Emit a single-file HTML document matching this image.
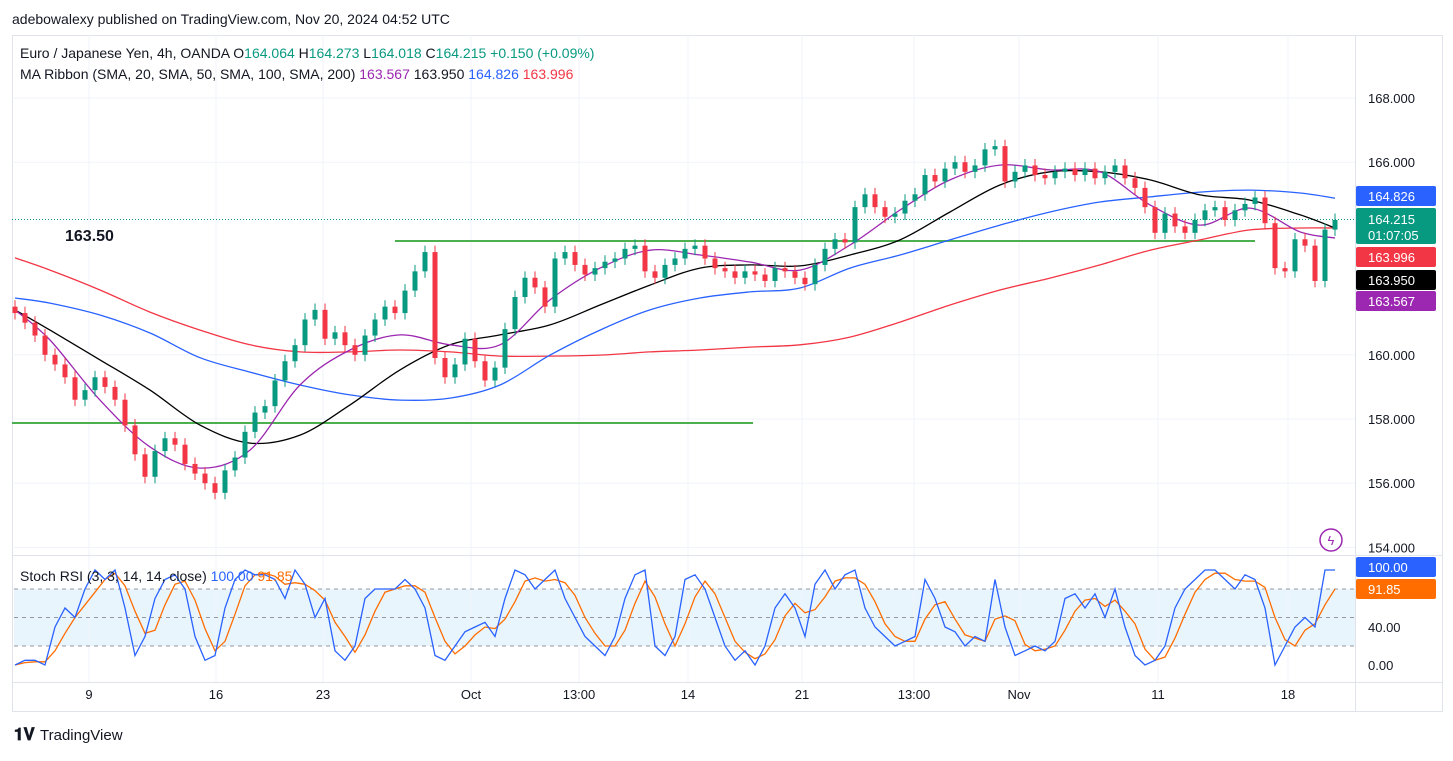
<!DOCTYPE html>
<html><head><meta charset="utf-8">
<style>
body{margin:0;background:#fff;font-family:"Liberation Sans",sans-serif;}
svg text{font-family:"Liberation Sans",sans-serif;}
</style></head>
<body>
<svg id="c" width="1453" height="756" xmlns="http://www.w3.org/2000/svg">
<rect width="1453" height="756" fill="#fff"/>
<text x="12" y="24" font-size="14" fill="#131722">adebowalexy published on TradingView.com, Nov 20, 2024 04:52 UTC</text>
<rect x="12.5" y="35.5" width="1430" height="676" fill="none" stroke="#e0e3eb"/>
<rect x="14" y="589" width="1341" height="57" fill="#e3f2fd" opacity="0.8"/>
<g id="grid"></g>
<g id="plot"></g>
<line x1="12" y1="555.5" x2="1443" y2="555.5" stroke="#e0e3eb"/>
<line x1="1355.5" y1="35" x2="1355.5" y2="712" stroke="#e0e3eb"/>
<line x1="12" y1="682.5" x2="1443" y2="682.5" stroke="#e0e3eb"/>
<text x="20" y="58" font-size="14" fill="#131722">Euro / Japanese Yen, 4h, OANDA <tspan fill="#131722">O</tspan><tspan fill="#089981">164.064</tspan> H<tspan fill="#089981">164.273</tspan> L<tspan fill="#089981">164.018</tspan> C<tspan fill="#089981">164.215</tspan> <tspan fill="#089981">+0.150 (+0.09%)</tspan></text>
<text x="20" y="79" font-size="14" fill="#131722">MA Ribbon (SMA, 20, SMA, 50, SMA, 100, SMA, 200) <tspan fill="#9c27b0">163.567</tspan>  163.950  <tspan fill="#2962ff">164.826</tspan>  <tspan fill="#f23645">163.996</tspan></text>
<text x="65" y="241" font-size="16" font-weight="bold" fill="#131722">163.50</text>
<text x="20" y="581" font-size="14" fill="#131722">Stoch RSI (3, 3, 14, 14, close) <tspan fill="#2962ff">100.00</tspan> <tspan fill="#ff6d00">91.85</tspan></text>
<g id="axes"></g>
<circle cx="1331" cy="540" r="11" fill="none" stroke="#9c27b0" stroke-width="1.5"/>
<text x="1331" y="545" font-size="13" fill="#9c27b0" text-anchor="middle">ϟ</text>
<text x="14" y="740" font-size="17" font-weight="bold" fill="#131722">𝟏𝐕</text>
<text x="40" y="740" font-size="15" fill="#131722">TradingView</text>
</svg>
<script>
const closes=[161.3,161.0,160.6,160.0,159.7,159.3,158.6,158.9,159.3,159.0,158.6,157.8,156.9,156.2,157.0,157.4,157.2,156.6,156.3,156.0,155.7,156.4,156.8,157.6,158.2,158.4,159.2,159.8,160.3,161.1,161.4,160.5,160.7,160.3,160.0,160.6,161.1,161.5,161.3,162.0,162.6,163.2,159.9,159.3,159.7,160.5,159.8,159.2,159.6,160.8,161.8,162.4,162.1,161.5,163.0,163.2,162.8,162.5,162.7,162.9,163.0,163.3,163.4,162.6,162.4,162.8,163.0,163.3,163.4,163.0,162.7,162.6,162.4,162.6,162.5,162.3,162.7,162.6,162.4,162.2,162.8,163.3,163.6,163.5,164.6,165.0,164.6,164.3,164.4,164.8,165.0,165.6,165.4,165.8,166.0,165.7,165.9,166.4,166.5,165.4,165.7,165.9,165.6,165.5,165.7,165.8,165.6,165.8,165.5,165.7,165.9,165.5,165.2,164.6,163.8,164.4,164.0,163.8,164.2,164.5,164.6,164.2,164.5,164.7,164.9,164.1,162.7,162.6,163.6,163.4,162.3,163.9,164.2];
const stochK=[0,5,5,0,40,60,50,80,100,90,100,60,10,30,70,90,95,80,30,5,10,60,90,100,95,95,90,70,100,85,50,70,15,5,20,70,80,80,80,90,80,60,10,5,20,35,40,45,30,70,100,95,80,90,100,70,50,30,20,10,30,70,95,100,20,10,30,90,95,80,50,20,5,15,0,20,60,75,60,30,85,100,80,95,100,60,40,30,20,25,30,90,70,40,35,20,30,25,90,40,10,15,20,15,25,70,75,60,75,50,80,40,10,0,5,20,60,80,90,100,100,90,80,95,90,60,0,20,40,50,40,100,100];
const maX=[15,50,100,150,200,250,300,350,400,450,500,550,600,650,700,750,800,850,900,950,1000,1050,1100,1150,1200,1250,1300,1335];
const sma20=[161.40,160.46,158.59,157.13,156.47,157.03,159.06,160.15,160.62,160.31,160.31,161.71,162.70,163.26,163.11,162.89,162.64,163.42,164.51,165.45,165.91,165.76,165.70,164.67,164.04,164.57,163.83,163.64];
const sma50=[161.40,160.77,159.84,158.90,157.81,157.25,157.50,158.44,159.53,160.31,160.62,160.93,161.55,162.17,162.70,162.80,162.77,163.11,163.58,164.45,165.29,165.70,165.70,165.45,164.98,164.82,164.36,163.95];
const sma100=[161.77,161.61,161.24,160.68,159.91,159.46,159.06,158.75,158.59,158.65,159.06,159.99,160.77,161.40,161.77,161.96,162.08,162.70,163.11,163.58,164.04,164.45,164.76,164.92,165.07,165.13,165.04,164.88];
const sma200=[163.02,162.64,162.02,161.33,160.77,160.31,160.09,160.09,160.15,160.09,159.96,159.96,159.99,160.09,160.15,160.24,160.31,160.55,161.02,161.55,162.02,162.39,162.80,163.26,163.58,163.89,163.95,163.95];
const timeLabels=["9","16","23","Oct","13:00","14","21","13:00","Nov","11","18"];
const timeIdx=[7.4,20.1,30.8,45.6,56.4,67.3,78.7,89.9,100.4,114.3,127.3];
const priceTicks=[168,166,160,158,156,154];
const stochTicks=[100,40,0];

const NS="http://www.w3.org/2000/svg";
const plot=document.getElementById('plot'),axes=document.getElementById('axes'),grid=document.getElementById('grid');
const X=i=>15+i*10;
const Y=p=>98+(168-p)*32.1;
const SY=v=>665-v*0.95;
function mk(tag,at,parent){const e=document.createElementNS(NS,tag);for(const k in at)e.setAttribute(k,at[k]);parent.appendChild(e);return e;}
priceTicks.forEach(p=>{const l=mk('line',{x1:12,x2:1355,y1:Y(p),y2:Y(p),stroke:'#f0f3fa'},grid);

});
timeIdx.forEach(i=>{const l=mk('line',{x1:X(i),x2:X(i),y1:35,y2:682,stroke:'#f0f3fa'},grid);

});
[80,50,20].forEach(v=>{const l=mk('line',{x1:14,x2:1355,y1:SY(v),y2:SY(v),stroke:'#9598a1','stroke-dasharray':'4 4'},grid);

});
let g1=mk('line',{x1:395,x2:1255,y1:241,y2:241,stroke:'#4caf50','stroke-width':2},plot);


let g2=mk('line',{x1:12,x2:753,y1:423,y2:423,stroke:'#4caf50','stroke-width':2},plot);


let dl=mk('line',{x1:12,x2:1355,y1:Y(164.215),y2:Y(164.215),stroke:'#089981','stroke-dasharray':'1 2'},plot);


function maLine(vals,color,name){
 const pts=maX.map((x,i)=>[x,Y(vals[i])]);
 let d='M'+pts[0][0]+','+pts[0][1].toFixed(1);
 for(let i=0;i<pts.length-1;i++){const p0=pts[Math.max(0,i-1)],p1=pts[i],p2=pts[i+1],p3=pts[Math.min(pts.length-1,i+2)];
  const c1=[p1[0]+(p2[0]-p0[0])/6,p1[1]+(p2[1]-p0[1])/6],c2=[p2[0]-(p3[0]-p1[0])/6,p2[1]-(p3[1]-p1[1])/6];
  d+='C'+c1[0].toFixed(1)+','+c1[1].toFixed(1)+' '+c2[0].toFixed(1)+','+c2[1].toFixed(1)+' '+p2[0]+','+p2[1].toFixed(1);}
 const p=mk('path',{d:d,fill:'none',stroke:color,'stroke-width':1.3},plot);
 
 }
maLine(sma200,'#f23645','sma200-line');
maLine(sma100,'#2962ff','sma100-line');
maLine(sma50,'#000000','sma50-line');
maLine(sma20,'#9c27b0','sma20-line');
closes.forEach((c,i)=>{const o=i?closes[i-1]:161.5;const up=c>=o;const col=up?'#089981':'#f23645';
const hi=Math.max(o,c)+0.2,lo=Math.min(o,c)-0.2;
const w=mk('line',{x1:X(i),x2:X(i),y1:Y(hi),y2:Y(lo),stroke:col},plot);


const top=Y(Math.max(o,c)),h=Math.max(1,Y(Math.min(o,c))-top);
const b=mk('rect',{x:X(i)-2.5,y:top,width:5,height:h,fill:col},plot);

});
const stochD=stochK.map((v,i)=>{const a=stochK.slice(Math.max(0,i-2),i+1);return a.reduce((s,x)=>s+x,0)/a.length;});
function sLine(vals,color,name){const d=vals.map((v,i)=>(i?'L':'M')+X(i)+','+SY(v).toFixed(1)).join('');
const p=mk('path',{d:d,fill:'none',stroke:color,'stroke-width':1.3},plot);

}
sLine(stochD,'#ff6d00','stoch-d-line');
sLine(stochK,'#2962ff','stoch-k-line');
priceTicks.forEach(p=>{const t=mk('text',{x:1368,y:Y(p)+5,'font-size':13,fill:'#131722'},axes);t.textContent=p.toFixed(3);

});
stochTicks.forEach(v=>{const t=mk('text',{x:1368,y:SY(v)+5,'font-size':13,fill:'#131722'},axes);t.textContent=v.toFixed(2);

});
timeLabels.forEach((s,k)=>{const t=mk('text',{x:X(timeIdx[k]),y:699,'font-size':13,fill:'#131722','text-anchor':'middle'},axes);t.textContent=s;

});
const badges=[[196,'#2962ff','164.826'],[257,'#f23645','163.996'],[280,'#000000','163.950'],[301,'#9c27b0','163.567'],[567,'#2962ff','100.00'],[589,'#ff6d00','91.85']];
badges.forEach(b=>{const r=mk('rect',{x:1356,y:b[0]-10,width:80,height:20,fill:b[1],rx:2},axes);


const t=mk('text',{x:1368,y:b[0]+5,'font-size':13,fill:'#fff'},axes);t.textContent=b[2];

});
const r=mk('rect',{x:1356,y:208,width:80,height:36,fill:'#089981',rx:2},axes);


const t1=mk('text',{x:1368,y:224,'font-size':13,fill:'#fff'},axes);t1.textContent='164.215';


const t2=mk('text',{x:1368,y:240,'font-size':13,fill:'#fff'},axes);t2.textContent='01:07:05';


</script>
</body></html>
